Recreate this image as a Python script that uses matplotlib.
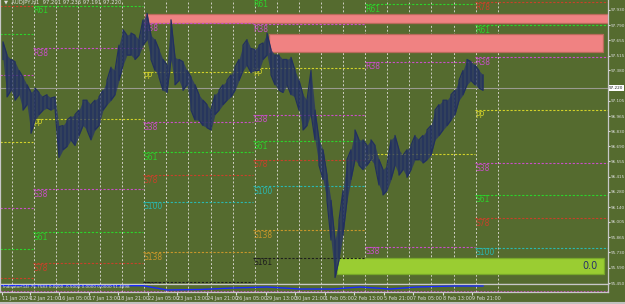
import numpy as np
import matplotlib
matplotlib.use("Agg")
import matplotlib.pyplot as plt
from matplotlib.patches import Rectangle

# ---- price data (H1, sampled every 4 bars) ----
bars = np.arange(3, 487, 4)
highs = [97.64, 97.52, 97.48, 97.46, 97.38, 97.32, 97.25, 97.18, 97.22, 97.18,
         97.14, 97.16, 97.13, 97.14, 96.87, 96.88, 96.93, 96.96, 96.98, 97.02,
         97.11, 97.11, 97.07, 97.11, 97.14, 97.20, 97.29, 97.41, 97.38, 97.61,
         97.75, 97.70, 97.72, 97.70, 97.66, 97.84, 97.90, 97.70, 97.66, 97.57,
         97.48, 97.43, 97.84, 97.50, 97.48, 97.46, 97.38, 97.32, 97.25, 97.16,
         97.11, 97.07, 97.02, 97.16, 97.20, 97.25, 97.29, 97.34, 97.41, 97.48,
         97.61, 97.66, 97.58, 97.57, 97.61, 97.63, 97.72, 97.57, 97.52, 97.52,
         97.48, 97.48, 97.50, 97.38, 97.29, 97.16, 97.11, 97.38, 97.02, 96.75,
         96.66, 96.43, 96.20, 95.84, 96.02, 96.29, 96.57, 96.66, 96.84, 96.75,
         96.75, 96.70, 96.75, 96.70, 96.57, 96.48, 96.52, 96.75, 96.79, 96.66,
         96.61, 96.66, 96.70, 96.79, 96.75, 96.79, 96.84, 96.88, 97.02, 97.07,
         97.11, 97.11, 97.16, 97.20, 97.29, 97.38, 97.48, 97.46, 97.43, 97.38,
         97.34]
lows = [97.48, 97.14, 97.20, 97.11, 97.16, 97.02, 97.07, 96.81, 96.93, 96.98,
        97.02, 97.04, 97.02, 97.04, 96.59, 96.66, 96.69, 96.75, 96.70, 96.79,
        96.88, 96.84, 96.75, 96.84, 96.88, 97.02, 97.07, 97.11, 97.16, 97.29,
        97.43, 97.52, 97.52, 97.48, 97.52, 97.61, 97.66, 97.48, 97.38, 97.32,
        97.20, 97.18, 97.48, 97.25, 97.29, 97.20, 97.25, 97.02, 96.93, 96.93,
        96.88, 96.86, 96.84, 96.98, 97.02, 97.07, 97.11, 97.14, 97.20, 97.29,
        97.38, 97.43, 97.36, 97.38, 97.38, 97.48, 97.52, 97.34, 97.25, 97.20,
        97.18, 97.25, 97.16, 97.14, 97.02, 96.84, 96.88, 96.99, 96.75, 96.52,
        96.39, 96.20, 95.84, 95.50, 95.66, 95.89, 96.20, 96.39, 96.57, 96.52,
        96.48, 96.52, 96.57, 96.52, 96.34, 96.25, 96.29, 96.39, 96.52, 96.43,
        96.48, 96.41, 96.48, 96.57, 96.57, 96.54, 96.57, 96.61, 96.75, 96.79,
        96.84, 96.88, 96.93, 96.98, 97.11, 97.16, 97.25, 97.29, 97.25, 97.22,
        97.20]
current_price = 97.22

# ---- weekly pivot levels (None = off screen) ----
week_start = [0, 33, 143, 253, 365, 475]
week_end = [33, 143, 253, 365, 475, 608]
show_label = [False, True, True, True, True, True]
levels = {
    "R78": [97.97, None, None, None, None, 98.00],
    "R61": [97.71, 97.97, None, 98.06, 97.98, 97.79],
    "R38": [97.34, 97.58, 97.81, 97.80, 97.46, 97.50],
    "PP": [96.73, 96.94, 97.37, 97.40, 96.62, 97.02],
    "S38": [96.13, 96.30, 96.91, 96.98, 95.78, 96.54],
    "S61": [95.76, 95.91, 96.64, 96.74, None, 96.25],
    "S78": [95.50, 95.63, 96.43, 96.57, None, 96.04],
    "S100": [None, None, 96.19, 96.33, None, 95.77],
    "S138": [None, None, 95.73, 95.93, None, None],
    "S161": [None, None, 95.46, 95.68, None, None],
}
level_colors = {"R78": "#c8402a", "R61": "#2bd42b", "R38": "#c94fc9", "PP": "#d2d22a",
                "S38": "#c94fc9", "S61": "#2bd42b", "S78": "#c8402a", "S100": "#2ab8b0",
                "S138": "#c8962a", "S161": "#1e1e1e"}

# ---- supply / demand zones ----
zone_x0 = [145, 269, 337]
zone_x1 = [608, 603, 604]
zone_lo = [97.81, 97.55, 95.53]
zone_hi = [97.89, 97.71, 95.68]
zone_col = ["#f08282", "#f08282", "#9acd32"]
zone_edge = ["#b86a5a", "#b86a5a", "#78a82a"]

# ---- axis labels ----
price_ticks = [97.930, 97.790, 97.655, 97.515, 97.380, 97.105, 96.965, 96.830,
               96.690, 96.555, 96.415, 96.280, 96.140, 96.005, 95.865, 95.730,
               95.590, 95.450]
date_pos = [2, 30, 59, 89, 118, 148, 177, 207, 236, 266, 295, 325, 354, 384, 413, 443, 472]
date_labels = ["11 Jan 2024", "12 Jan 21:00", "16 Jan 05:00", "17 Jan 13:00", "18 Jan 21:00",
               "22 Jan 05:00", "23 Jan 13:00", "24 Jan 21:00", "26 Jan 05:00", "29 Jan 13:00",
               "30 Jan 21:00", "1 Feb 05:00", "2 Feb 13:00", "5 Feb 21:00", "7 Feb 05:00",
               "8 Feb 13:00", "9 Feb 21:00"]

# ---- sub window indicator ----
ind_x = [2, 60, 120, 143, 167, 200, 233, 267, 300, 333, 360, 390, 417, 453, 483]
ind_v = [6.3, 6.3, 6.3, 6.3, 2.0, 2.5, 4.0, 5.0, 3.0, 3.0, 5.0, 3.0, 5.0, 6.0, 6.0]

BG = "#556b2f"
FG = "#dcdcdc"
NAVY = "#27346a"
YTOP = 98.02

fig = plt.figure(figsize=(6.25, 3.04), dpi=100, facecolor=BG)
ax = fig.add_axes([0, 20 / 304, 608 / 625, 284 / 304], facecolor=BG)
sub = fig.add_axes([0, 12 / 304, 608 / 625, 8 / 304], facecolor=BG)

ax.set_xlim(0, 608)
ax.set_ylim(95.441, YTOP)

# grid
for gx in np.arange(11.7, 500, 22.09):
    ax.axvline(gx, color="#cfcfc4", lw=0.7, ls=(0, (2, 2)), zorder=1)
    sub.axvline(gx, color="#cfcfc4", lw=0.7, ls=(0, (2, 2)), zorder=1)

# zones
for x0, x1, lo, hi, c, e in zip(zone_x0, zone_x1, zone_lo, zone_hi, zone_col, zone_edge):
    ax.add_patch(Rectangle((x0, lo), x1 - x0, hi - lo, facecolor=c, edgecolor=e, lw=0.9, zorder=2))
ax.text(598, (zone_lo[2] + zone_hi[2]) / 2, "0.0", color="#27306b", fontsize=7,
        ha="right", va="center", zorder=3)

# pivots
for name, vals in levels.items():
    for i, v in enumerate(vals):
        if v is None:
            continue
        ax.hlines(v, week_start[i], week_end[i], color=level_colors[name], lw=0.8,
                  ls=(0, (2, 1.5)), zorder=2)
        if show_label[i]:
            # keep labels of lines just above the top inside the window
            ax.text(week_start[i], min(v - 0.005, YTOP - 0.003), name, color=level_colors[name],
                    fontsize=5.5, ha="left", va="top", zorder=2)

# current price line
ax.axhline(current_price, color="#9a9a90", lw=0.8, zorder=2)

# price: dense band with a zigzag through high/low of each sample
xs = np.repeat(bars, 2)
ys = []
for i, (h, l) in enumerate(zip(highs, lows)):
    ys += [l, h] if i % 2 == 0 else [h, l]
ax.fill_between(bars, lows, highs, color=NAVY, alpha=0.75, lw=0, zorder=3)
ax.plot(xs, ys, color="#22305f", lw=0.9, zorder=4)

ax.text(4, 97.995, "\u25bc  AUDJPY,H1  97.201 97.236 97.191 97.220", color=FG,
        fontsize=3.8, ha="left", va="center", zorder=5)

# axes styling
ax.yaxis.tick_right()
ax.set_yticks(price_ticks)
ax.set_yticklabels([f"{t:.3f}" for t in price_ticks])
ax.tick_params(axis="y", colors=FG, labelsize=3.0, length=1.5, pad=0.4)
ax.set_xticks([])
ax.spines["top"].set_visible(False)
for s in ["left", "right", "bottom"]:
    ax.spines[s].set_color("#c8c8c8")
    ax.spines[s].set_linewidth(0.9)
ax.text(1.002, current_price, f"{current_price:.3f}", transform=ax.get_yaxis_transform(),
        fontsize=3.0, color="#202020", va="center", ha="left",
        bbox=dict(boxstyle="square,pad=0.15", fc="white", ec="none"), clip_on=False)

# sub window
sub.set_xlim(0, 608)
sub.set_ylim(0, 8)
sub.plot(ind_x, ind_v, color="#1a2cff", lw=1.0, zorder=3)
sub.axhline(1.0, color="#d040d0", lw=0.6, ls=(0, (2, 2)))
sub.text(3, 5.0, "Indicator(14) 75.7583 0.0000 -0.5000 0.0000 0.0000 51.4898", color=FG,
         fontsize=3.0, ha="left", va="center")
sub.set_yticks([])
sub.set_xticks(date_pos)
sub.set_xticklabels(date_labels)
for lab in sub.get_xticklabels():
    lab.set_ha("left")
sub.tick_params(axis="x", colors=FG, labelsize=3.5, length=2, pad=0.8)
for s in ["top", "left", "right", "bottom"]:
    sub.spines[s].set_color("#c8c8c8")
    sub.spines[s].set_linewidth(0.9)

# bottom scrollbar strip
fig.add_artist(plt.Line2D([0, 1], [1 / 304, 1 / 304], color="#c0c0c0", lw=1.5,
                          transform=fig.transFigure))

fig.savefig("out.png", dpi=100, facecolor=BG)
